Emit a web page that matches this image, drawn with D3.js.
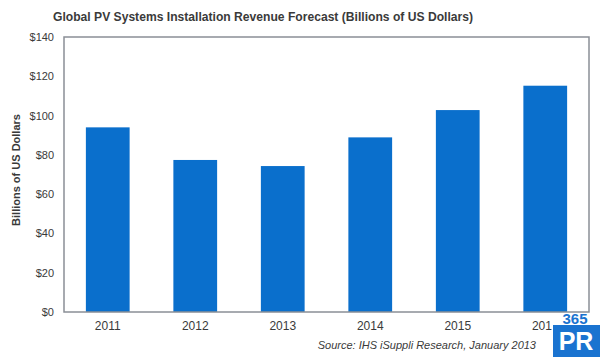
<!DOCTYPE html>
<html><head><meta charset="utf-8">
<script src="https://cdn.jsdelivr.net/npm/d3@7"></script>
<style>body{margin:0;background:#fff}svg{display:block}</style>
</head><body>
<svg id="c" width="600" height="357"></svg>
<script>
const categories = ["2011","2012","2013","2014","2015","2016"];
const values = [94.0, 77.4, 74.3, 88.9, 102.8, 115.2];
const yTicks = [0,20,40,60,80,100,120,140];
const title = "Global PV Systems Installation Revenue Forecast (Billions of US Dollars)";
const yTitle = "Billions of US Dollars";
const source = "Source: IHS iSuppli Research, January 2013";

const svg = d3.select("#c");
const m = {l:64, t:37, r:589, b:312};
const x = d3.scaleBand().domain(categories).range([m.l, m.r]).paddingInner(0.5).paddingOuter(0.25);
const y = d3.scaleLinear().domain([0,140]).range([m.b, m.t]);
const font = "Liberation Sans, Arial, sans-serif";

svg.append("text").attr("x", 263).attr("y", 21).attr("text-anchor","middle")
  .attr("font-family", font).attr("font-weight","bold").attr("font-size", 13)
  .attr("fill","#3a3a3a").attr("textLength", 420).attr("lengthAdjust","spacingAndGlyphs").text(title);

svg.append("g").selectAll("rect").data(values).join("rect")
  .attr("x",(d,i)=>x(categories[i])).attr("width", x.bandwidth())
  .attr("y", d=>y(d)).attr("height", d=>y(0)-y(d)).attr("fill","#0a6fcc");

svg.append("rect").attr("x", m.l).attr("y", m.t).attr("width", m.r-m.l).attr("height", m.b-m.t)
  .attr("fill","none").attr("stroke","#8a8f96").attr("stroke-width",1.5);

const ya = svg.append("g").attr("transform",`translate(${m.l},0)`)
  .call(d3.axisLeft(y).tickValues(yTicks).tickSize(0).tickPadding(10).tickFormat(d=>"$"+d));
ya.select(".domain").remove();
ya.selectAll("text").attr("font-family", font).attr("font-size", 11).attr("fill","#3a3a3a");

const xa = svg.append("g").attr("transform",`translate(0,${m.b})`)
  .call(d3.axisBottom(x).tickSize(0).tickPadding(9));
xa.select(".domain").remove();
xa.selectAll("text").attr("font-family", font).attr("font-size", 12).attr("fill","#3a3a3a");

svg.append("text").attr("transform","translate(20,170) rotate(-90)").attr("text-anchor","middle")
  .attr("font-family", font).attr("font-weight","bold").attr("font-size", 11)
  .attr("fill","#3a3a3a").text(yTitle);

svg.append("text").attr("x", 536).attr("y", 349).attr("text-anchor","end")
  .attr("font-family", font).attr("font-style","italic").attr("font-size", 11)
  .attr("fill","#3a3a3a").text(source);

// watermark logo
const lg = svg.append("g");
lg.append("rect").attr("x",552).attr("y",313).attr("width",48).attr("height",44).attr("fill","#fff");
lg.append("rect").attr("x",553).attr("y",325).attr("width",47).attr("height",32).attr("fill","#1a73d0");
lg.append("text").attr("x",575).attr("y",324).attr("text-anchor","middle").attr("font-family",font)
  .attr("font-weight","bold").attr("font-size",15).attr("fill","#1a73d0").text("365");
lg.append("text").attr("x",576).attr("y",350).attr("text-anchor","middle").attr("font-family",font)
  .attr("font-weight","bold").attr("font-size",25).attr("fill","#fff").text("PR");
</script>
</body></html>
